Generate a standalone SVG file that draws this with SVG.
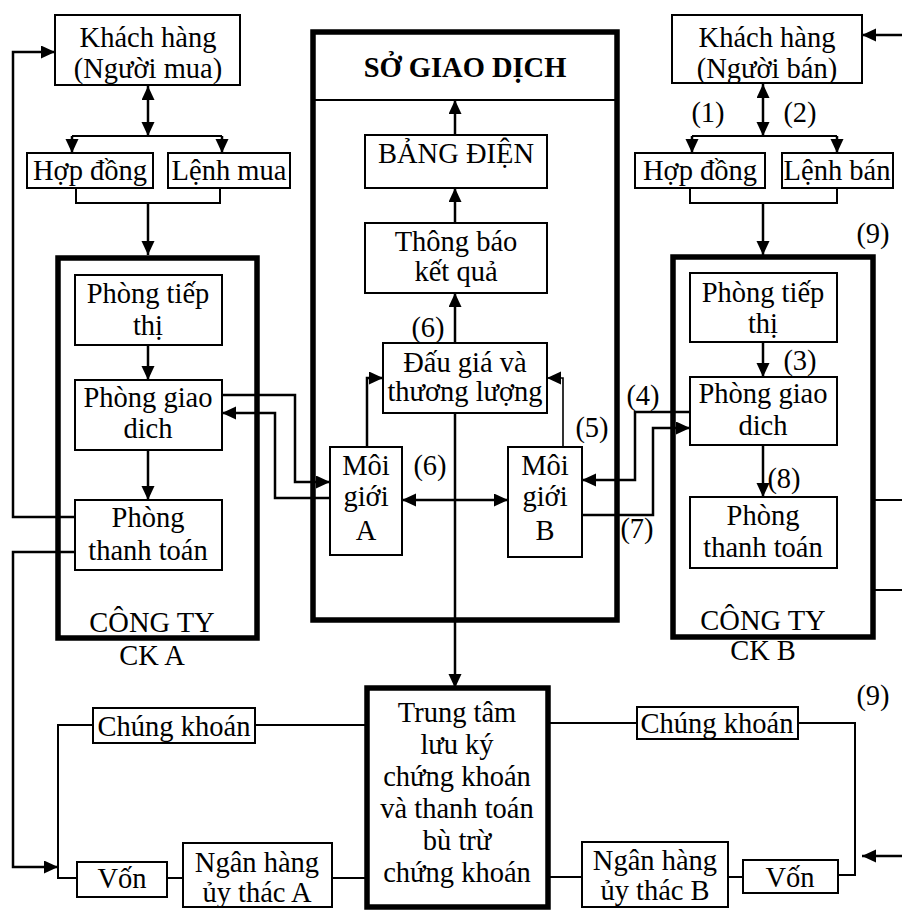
<svg xmlns="http://www.w3.org/2000/svg" width="902" height="911" viewBox="0 0 902 911">
<style>
text{font-family:"Liberation Serif","Times New Roman",serif;font-size:28.5px;fill:#000;text-anchor:middle}
.b{font-weight:bold}
.box{fill:#fff;stroke:#000;stroke-width:2}
.thick{fill:none;stroke:#000;stroke-width:5.5}
.c{fill:none;stroke:#000;stroke-width:2}
.ca{fill:none;stroke:#000;stroke-width:2.5;marker-end:url(#ah)}
.cd{fill:none;stroke:#000;stroke-width:2.5;marker-start:url(#ah);marker-end:url(#ah)}
</style>
<defs>
<marker id="ah" markerUnits="userSpaceOnUse" markerWidth="16" markerHeight="14" refX="14" refY="6.5" orient="auto-start-reverse" viewBox="0 0 16 14">
<path d="M0,0 L14,6.5 L0,13 z" fill="#000"/>
</marker>
</defs>
<rect width="902" height="911" fill="#fff"/>

<g id="connectors">
<!-- buyer side -->
<path class="cd" d="M148,86 V136"/>
<path class="c" d="M72,136 H222"/>
<path class="ca" d="M72,136 V153"/>
<path class="ca" d="M222,136 V153"/>
<path class="c" d="M76,188 V203 H220 V188"/>
<path class="ca" d="M148,203 V255"/>
<path class="ca" d="M75,517 H13 V52 H55"/>
<path class="ca" d="M75,552 H13 V867 H58"/>
<path class="ca" d="M148,345 V380"/>
<path class="ca" d="M148,450 V500"/>
<path class="ca" d="M222,395 H295 V482 H330"/>
<path class="ca" d="M330,498 H275 V413 H222"/>
<!-- exchange -->
<path class="ca" d="M455,135 V100"/>
<path class="ca" d="M455,223 V188"/>
<path class="ca" d="M455,343 V293"/>
<path class="ca" d="M367,447 V378 H383"/>
<path class="ca" d="M563,447 V378 H547" style="stroke-width:1.6"/>
<path class="cd" d="M402,500 H508"/>
<path class="ca" d="M455,413 V688"/>
<!-- seller side -->
<path class="cd" d="M763,84 V136"/>
<path class="c" d="M692,136 H837"/>
<path class="ca" d="M692,136 V153"/>
<path class="ca" d="M837,136 V153"/>
<path class="c" d="M690,188 V203 H837 V188"/>
<path class="ca" d="M763,203 V255"/>
<path class="ca" d="M902,35 H862"/>
<path class="ca" d="M763,342 V377"/>
<path class="ca" d="M763,445 V497"/>
<path class="ca" d="M690,412 H635 V480 H582"/>
<path class="ca" d="M582,515 H653 V428 H690"/>
<path class="c" d="M875,500 H902"/>
<path class="c" d="M875,590 H902"/>
<!-- settlement -->
<path class="c" d="M93,725 H58 V878 H77"/>
<path class="c" d="M255,725 H367"/>
<path class="c" d="M167,878 H183"/>
<path class="c" d="M332,878 H367"/>
<path class="c" d="M548,723 H637"/>
<path class="c" d="M798,723 H855 V875 H838"/>
<path class="c" d="M548,877 H582"/>
<path class="c" d="M728,877 H743"/>
<path class="ca" d="M902,856 H862"/>
</g>

<g id="so-giao-dich">
<rect class="thick" x="313" y="32" width="304" height="588"/>
<path class="c" d="M313,100 H617"/>
<text class="b" x="465" y="77">SỞ GIAO DỊCH</text>
</g>
<g id="bang-dien">
<rect class="box" x="365" y="135" width="182" height="53"/>
<text x="456" y="163">BẢNG ĐIỆN</text>
</g>
<g id="thong-bao">
<rect class="box" x="365" y="223" width="182" height="70"/>
<text x="456" y="251">Thông báo</text>
<text x="456" y="281">kết quả</text>
</g>
<g id="dau-gia">
<rect class="box" x="383" y="343" width="164" height="70"/>
<text x="465" y="372">Đấu giá và</text>
<text x="465" y="401">thương lượng</text>
</g>
<g id="moi-gioi-a">
<rect class="box" x="330" y="447" width="72" height="108"/>
<text x="366" y="475">Môi</text>
<text x="366" y="506">giới</text>
<text x="366" y="540">A</text>
</g>
<g id="moi-gioi-b">
<rect class="box" x="508" y="447" width="74" height="110"/>
<text x="545" y="475">Môi</text>
<text x="545" y="506">giới</text>
<text x="545" y="540">B</text>
</g>

<g id="khach-hang-mua">
<rect class="box" x="55" y="15" width="185" height="70"/>
<text x="148" y="47">Khách hàng</text>
<text x="148" y="78">(Người mua)</text>
</g>
<g id="hop-dong-a">
<rect class="box" x="27" y="153" width="126" height="35"/>
<text x="90" y="180">Hợp đồng</text>
</g>
<g id="lenh-mua">
<rect class="box" x="168" y="153" width="122" height="35"/>
<text x="229" y="180">Lệnh mua</text>
</g>
<g id="cong-ty-a">
<rect class="thick" x="58" y="258" width="199" height="380"/>
<text x="152" y="632">CÔNG TY</text>
<text x="152" y="665">CK A</text>
</g>
<g id="tiep-thi-a">
<rect class="box" x="75" y="275" width="147" height="70"/>
<text x="148" y="303">Phòng tiếp</text>
<text x="148" y="335">thị</text>
</g>
<g id="giao-dich-a">
<rect class="box" x="75" y="380" width="147" height="70"/>
<text x="148" y="407">Phòng giao</text>
<text x="148" y="438">dich</text>
</g>
<g id="thanh-toan-a">
<rect class="box" x="75" y="500" width="147" height="70"/>
<text x="148" y="527">Phòng</text>
<text x="148" y="560">thanh toán</text>
</g>

<g id="khach-hang-ban">
<rect class="box" x="672" y="15" width="190" height="68"/>
<text x="767" y="47">Khách hàng</text>
<text x="767" y="78">(Người bán)</text>
</g>
<g id="hop-dong-b">
<rect class="box" x="635" y="153" width="130" height="35"/>
<text x="700" y="180">Hợp đồng</text>
</g>
<g id="lenh-ban">
<rect class="box" x="782" y="153" width="111" height="35"/>
<text x="837" y="180">Lệnh bán</text>
</g>
<g id="cong-ty-b">
<rect class="thick" x="673" y="257" width="200" height="380"/>
<text x="763" y="630">CÔNG TY</text>
<text x="763" y="660">CK B</text>
</g>
<g id="tiep-thi-b">
<rect class="box" x="690" y="273" width="147" height="69"/>
<text x="763" y="302">Phòng tiếp</text>
<text x="763" y="333">thị</text>
</g>
<g id="giao-dich-b">
<rect class="box" x="690" y="377" width="147" height="68"/>
<text x="763" y="403">Phòng giao</text>
<text x="763" y="435">dich</text>
</g>
<g id="thanh-toan-b">
<rect class="box" x="690" y="497" width="147" height="71"/>
<text x="763" y="525">Phòng</text>
<text x="763" y="557">thanh toán</text>
</g>

<g id="trung-tam">
<rect class="thick" x="367" y="688" width="181" height="219" style="fill:#fff"/>
<text x="457" y="722">Trung tâm</text>
<text x="457" y="754">lưu ký</text>
<text x="457" y="786">chứng khoán</text>
<text x="457" y="818">và thanh toán</text>
<text x="457" y="850">bù trừ</text>
<text x="457" y="882">chứng khoán</text>
</g>
<g id="chung-khoan-a">
<rect class="box" x="93" y="708" width="162" height="35"/>
<text x="174" y="736">Chúng khoán</text>
</g>
<g id="von-a">
<rect class="box" x="77" y="862" width="90" height="35"/>
<text x="122" y="888">Vốn</text>
</g>
<g id="ngan-hang-a">
<rect class="box" x="183" y="843" width="149" height="64"/>
<text x="257" y="872">Ngân hàng</text>
<text x="257" y="902">ủy thác A</text>
</g>
<g id="chung-khoan-b">
<rect class="box" x="637" y="707" width="161" height="32"/>
<text x="717" y="733">Chúng khoán</text>
</g>
<g id="von-b">
<rect class="box" x="743" y="860" width="95" height="33"/>
<text x="790" y="887">Vốn</text>
</g>
<g id="ngan-hang-b">
<rect class="box" x="582" y="842" width="146" height="65"/>
<text x="655" y="870">Ngân hàng</text>
<text x="655" y="900">ủy thác B</text>
</g>

<g id="labels">
<text x="708" y="122">(1)</text>
<text x="800" y="122">(2)</text>
<text x="800" y="370">(3)</text>
<text x="643" y="405">(4)</text>
<text x="592" y="437">(5)</text>
<text x="428" y="337">(6)</text>
<text x="430" y="475">(6)</text>
<text x="637" y="538">(7)</text>
<text x="784" y="488">(8)</text>
<text x="873" y="243">(9)</text>
<text x="873" y="705">(9)</text>
</g>
</svg>
